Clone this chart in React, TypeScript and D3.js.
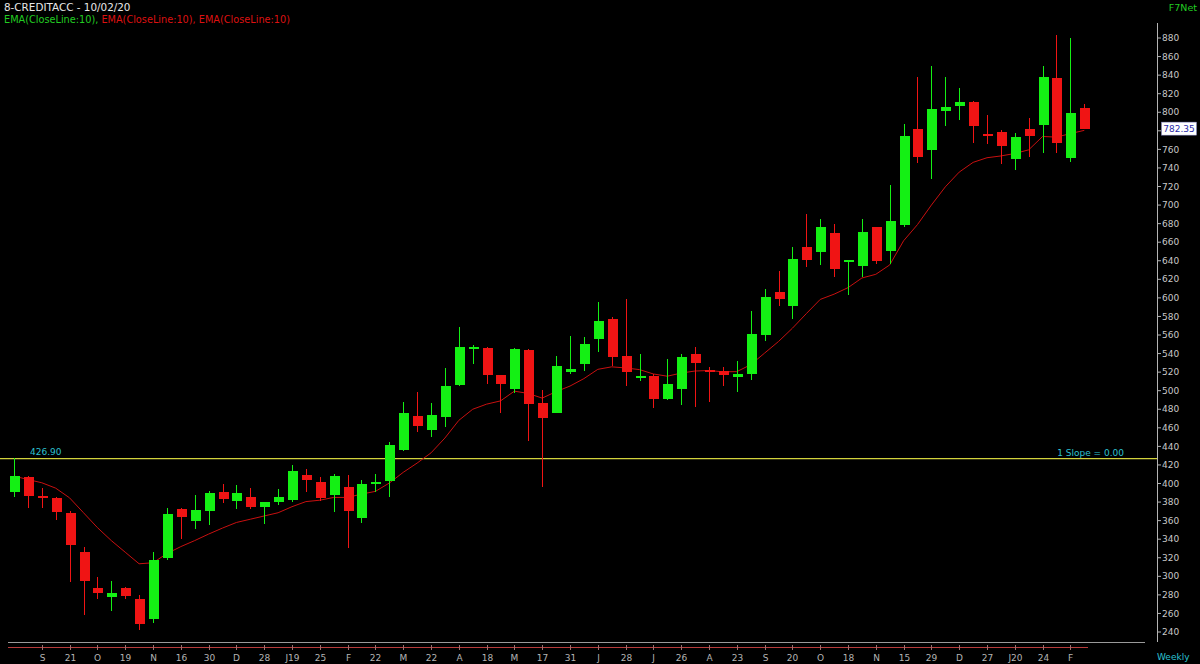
import * as d3 from "d3";

const title = "8-CREDITACC - 10/02/20";

// weekly OHLC
const opens = [
  390.5, 407.3, 387, 383.9, 368.5, 326.1, 287.3, 278, 287.3, 275.8,
  253.9, 319.3, 372.1, 359.9, 370.7, 391.1, 381.1, 385, 374.2, 380.3,
  382.1, 409.1, 401.2, 387.5, 396.5, 363.1, 400.2, 402.6, 436, 472.7,
  457.6, 471.2, 506, 545.7, 545.6, 516.8, 501.8, 543.8, 486.3, 476.3,
  519.7, 528.7, 555.6, 577.2, 537.3, 513.2, 516.1, 490.6, 501.8, 539.1,
  522.5, 521.1, 514.3, 517.9, 559.9, 606.6, 591.2, 655.1, 649, 669.5,
  639.3, 634.6, 675.9, 650.4, 678.5, 781.6, 759.3, 801.7, 806.7, 811.4,
  776.8, 778.3, 749.2, 781.6, 786.2, 836.5, 750.3, 804.2,
];
const highs = [
  427, 408.5, 394.7, 385, 370, 331.1, 299.5, 295.2, 288.8, 279.8,
  325.8, 373.9, 373.2, 387.5, 392.2, 399.4, 398.3, 394.7, 380.3, 393.6,
  419.9, 415.2, 406.6, 409.8, 409.1, 403.7, 409.8, 445, 487.4, 498.9,
  486.3, 524, 568.2, 549.2, 546.7, 517, 546.3, 544.5, 500.7, 537.3,
  558.9, 558.2, 595.9, 579, 598.7, 539.1, 517.5, 534, 539.1, 547.3,
  525.8, 525.8, 531.9, 586.1, 609.1, 628.9, 655.1, 690, 684.9, 679.2,
  640.7, 684.9, 676.7, 721.6, 786.9, 837.6, 849.8, 838.3, 825.7, 812,
  797, 780.8, 777.2, 793.4, 849.8, 883.2, 879.6, 808.9,
];
const lows = [
  385.7, 373.2, 373.2, 360.6, 294.1, 258.2, 275.1, 262.9, 275.1, 242.1,
  249.2, 318, 339.8, 350.5, 355.2, 379.3, 372.4, 372.1, 356.3, 376.8,
  380.3, 391.1, 381.4, 369.6, 330.1, 357, 391.1, 385.4, 435, 455,
  450.4, 461.2, 505, 528.7, 506.8, 475.5, 497.8, 446.1, 396.5, 476,
  517.9, 521.2, 542, 526.6, 505, 510.4, 481.6, 490, 484.5, 482,
  488, 505, 498.9, 511.4, 553.8, 591.2, 576.8, 632.8, 635.4, 622.1,
  603, 622.1, 636.1, 636.1, 676, 745.6, 727.7, 785.2, 791.6, 767.2,
  765.4, 743.8, 737.7, 752.1, 755.7, 756.4, 746.7, 782.6,
];
const closes = [
  408, 386.5, 385.5, 369.6, 333.7, 294.9, 282.3, 282.3, 279.1, 248.5,
  317.5, 367.1, 363.5, 371.4, 390, 383.2, 390, 374.2, 379.6, 385.7,
  413.8, 403.7, 384.7, 408, 370.3, 399.4, 402, 441.4, 475.5, 462.3,
  473.8, 505, 547.4, 546.8, 516.8, 507.1, 544.9, 485.3, 470.9, 526.6,
  523.7, 550.2, 575.4, 535.9, 520.4, 516.1, 490.6, 507.1, 536.6, 529.4,
  521.5, 516.8, 517.5, 561, 600.5, 598.7, 641.5, 640.7, 675.9, 631,
  640.4, 671.3, 639.7, 683.1, 774.4, 751.4, 803.1, 805.6, 811.4, 785.5,
  775.6, 763.6, 772.9, 774.4, 838.3, 766.5, 798.8, 782.35,
];
// EMA(10) line as drawn
const ema = [
  408, 404.3, 400.8, 395, 384.5, 368.5, 352.5, 338.5, 326, 313.5,
  314.6, 324.5, 332, 338.5, 345.5, 352, 358, 361.5, 365, 368.5,
  375, 380.5, 382, 385, 385, 388.6, 391.5, 400.5, 412, 422,
  433, 449, 468, 480, 485.5, 489, 499.5, 497, 492, 499,
  505, 513, 523, 525.7, 524.5, 522.7, 518, 515.6, 519, 521.2,
  521.7, 520.4, 520.5, 528, 540.5, 553, 567.3, 583, 598.3, 604,
  611, 621.4, 625.4, 635.5, 661.5, 679, 700, 719.6, 735.5, 746,
  751, 752.9, 755.6, 759.5, 773.9, 773.2, 777, 780.5,
];
const dateLabels = [
  "S", "21", "O", "19", "N", "16", "30", "D", "28", "J19", "25", "F", "22",
  "M", "22", "A", "18", "M", "17", "31", "J", "28", "J", "26", "A", "23",
  "S", "20", "O", "18", "N", "15", "29", "D", "27", "J20", "24", "F",
];
const priceTicks = d3.range(240, 881, 20);
const levelValue = 426.9;
const lastValue = 782.35;

export default function App() {
  const width = 1200;
  const height = 664;
  const axisX = 1157;
  const font = "DejaVu Sans";
  const green = "#14f014";
  const red = "#f01414";

  const n = closes.length;
  const x = d3.scaleLinear().domain([0, n - 1]).range([14, 1084.3]);
  const y = d3.scaleLinear().domain([240, 880]).range([632, 38]);
  const bodyW = 10;

  const emaPath = d3
    .line<number>()
    .x((_, i) => x(i))
    .y((d) => y(d))(ema);

  // the last-price box hides the tick label under it
  const hiddenByBox = (t: number) => Math.abs(y(t) - y(lastValue)) < 11;

  return (
    <svg
      width={width}
      height={height}
      style={{ position: "absolute", left: 0, top: 0, background: "#000" }}
      fontFamily={font}
    >
      <rect width={width} height={height} fill="#000" />

      {/* header */}
      <text x={4} y={11} fontSize={10.4} fill="#e6e6e6">{title}</text>
      <text x={4} y={23} fontSize={10} textLength={286} lengthAdjust="spacingAndGlyphs">
        <tspan fill="#22cc22">EMA(CloseLine:10), </tspan>
        <tspan fill="#dd1111">EMA(CloseLine:10), EMA(CloseLine:10)</tspan>
      </text>
      <text x={1197} y={11} fontSize={9.5} fill="#22cc22" textAnchor="end">F7Net</text>

      {/* level line */}
      <line x1={0} x2={axisX} y1={y(levelValue)} y2={y(levelValue)} stroke="#d2d23c" strokeWidth={1.2} />
      <text x={30} y={y(levelValue) - 4} fontSize={9} fill="#2cc0d0">{levelValue.toFixed(2)}</text>
      <text x={1124} y={y(levelValue) - 3} fontSize={9} fill="#2cc0d0" textAnchor="end">1 Slope = 0.00</text>

      {/* ema */}
      <path d={emaPath ?? ""} fill="none" stroke="#c81010" strokeWidth={1} />

      {/* candles */}
      {closes.map((c, i) => {
        const o = opens[i];
        const up = c >= o;
        const col = up ? green : red;
        const cx = Math.round(x(i));
        const top = y(Math.max(o, c));
        const bot = y(Math.min(o, c));
        return (
          <g key={i} shapeRendering="crispEdges">
            <line x1={cx + 0.5} x2={cx + 0.5} y1={y(highs[i])} y2={y(lows[i])} stroke={col} />
            <rect x={cx - bodyW / 2 + 0.5} y={top} width={bodyW} height={Math.max(2, bot - top)} fill={col} />
          </g>
        );
      })}

      {/* price axis */}
      <line x1={axisX + 0.5} x2={axisX + 0.5} y1={23} y2={642} stroke="#b4b4b4" />
      {priceTicks.map((t) => (
        <g key={t} transform={`translate(${axisX}, ${y(t)})`}>
          <line x1={0} x2={4} stroke="#b4b4b4" />
          {!hiddenByBox(t) && (
            <text x={5} dy="0.35em" fontSize={9} fill="#c8c8c8">{t}</text>
          )}
        </g>
      ))}
      <rect x={1161.5} y={y(lastValue) - 6.5} width={35} height={13} fill="#ffffff" stroke="#8888cc" strokeWidth={0.5} />
      <text x={1179} y={y(lastValue)} dy="0.35em" fontSize={9} fill="#2a2aa8" textAnchor="middle">{lastValue.toFixed(2)}</text>

      {/* time axis */}
      <line x1={8} x2={1145} y1={642.5} y2={642.5} stroke="#9a9a9a" />
      <line x1={8} x2={1088} y1={647.5} y2={647.5} stroke="#b83c3c" />
      {dateLabels.map((d, k) => {
        const tx = Math.round(x(2 + 2 * k)) + 0.5;
        return (
          <g key={k}>
            <line x1={tx} x2={tx} y1={645} y2={650} stroke="#9a7070" />
            <text x={tx} y={661} fontSize={9} fill="#b4b4b4" textAnchor="middle">{d}</text>
          </g>
        );
      })}
      <text x={1157} y={660} fontSize={9} fill="#2cc0d0">Weekly</text>
    </svg>
  );
}
